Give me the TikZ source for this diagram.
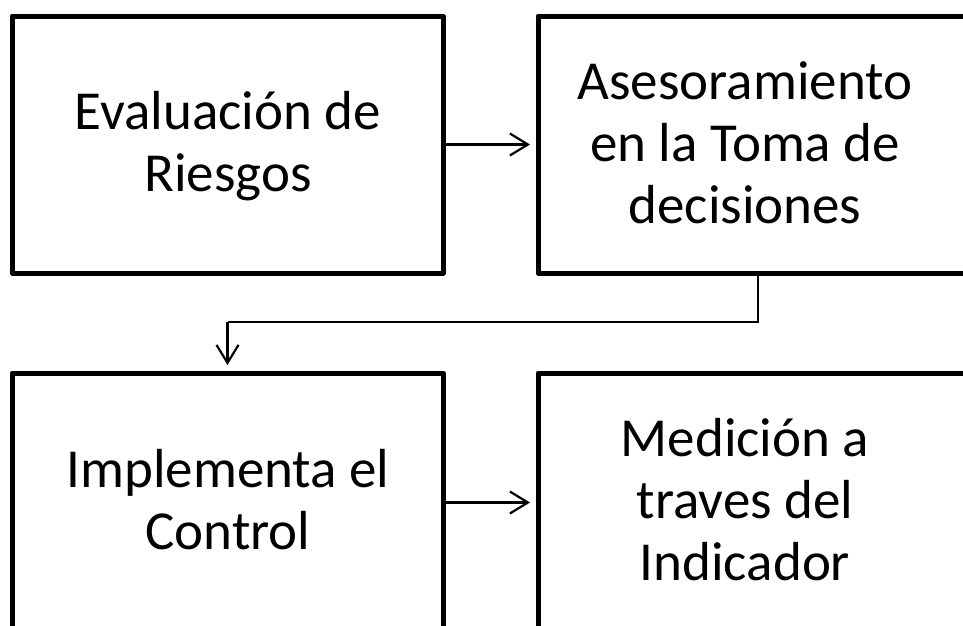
\documentclass[tikz,border=0pt]{standalone}
\usepackage{fontspec}
\setmainfont{Carlito}
\usetikzlibrary{arrows.meta}
\begin{document}
\begin{tikzpicture}[x=1pt,y=-1pt,
  box/.style={draw=black,line width=5pt,line join=round,inner sep=0pt,minimum width=#1,minimum height=257pt},
  box/.default=431pt,
  txt/.style={align=center,inner sep=0pt,font=\fontsize{55}{62}\selectfont},
  conn/.style={line width=2.2pt,-{Straight Barb[length=18pt,width=22pt,line width=2.2pt]}},
  plain/.style={line width=2.2pt}]
\useasboundingbox (0,0) rectangle (963,625);
\clip (0,0) rectangle (963,625);
\fill[white] (0,0) rectangle (963,625);
\node[box] (b1) at (227.5,144.5) {};
\node[box=440pt] (b2) at (758,144.5) {};
\node[box] (b3) at (227.5,501.5) {};
\node[box=440pt] (b4) at (758,501.5) {};
\node[txt] (t1) at (228,146) {Evaluación de\\Riesgos};
\node[txt] (t2) at (745,143) {Asesoramiento\\en la Toma de\\decisiones};
\node[txt] (t3) at (228,500) {Implementa el\\Control};
\node[txt] (t4) at (745,500) {Medición a\\traves del\\Indicador};
\coordinate (a1e) at (530,144.5);
\coordinate (a2e) at (530,502.5);
\coordinate (c1) at (758,322);
\coordinate (c2) at (227.5,322);
\coordinate (c3) at (227.5,365);
\draw[conn] (b1.east |- a1e) -- (a1e);
\draw[conn] (b3.east |- a2e) -- (a2e);
\draw[plain] (b2.south) -- (c1) -- (c2);
\draw[conn] (c2) -- (c3);
\end{tikzpicture}
\end{document}
